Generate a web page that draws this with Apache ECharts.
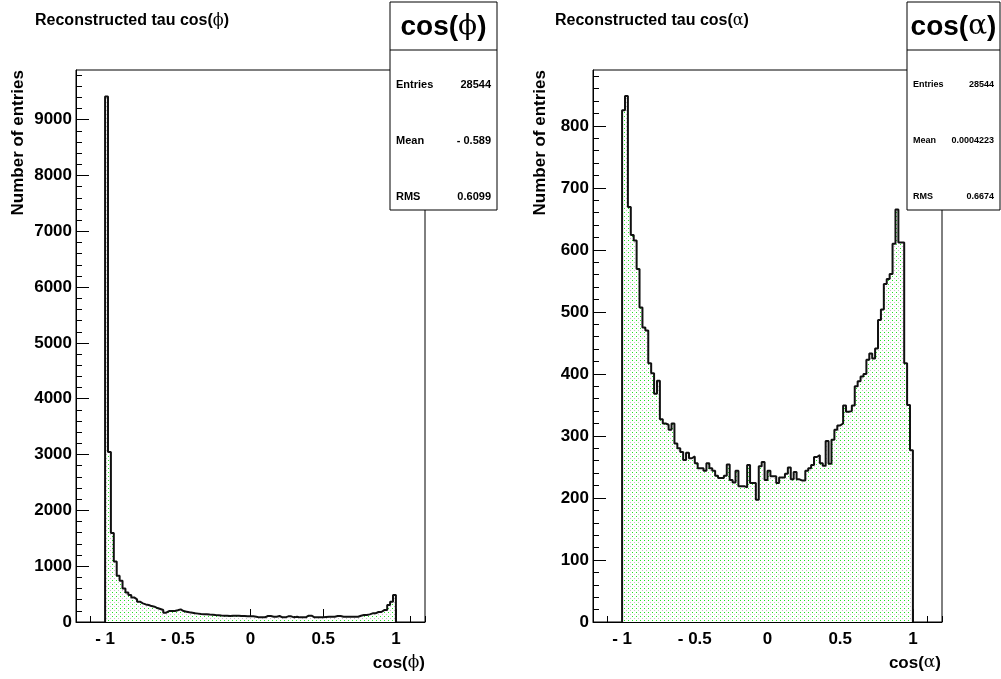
<!DOCTYPE html>
<html>
<head>
<meta charset="utf-8">
<script src="https://cdn.jsdelivr.net/npm/echarts@6/dist/echarts.min.js"></script>
<style>
  html, body { margin: 0; padding: 0; background: #fff; }
  #chart { width: 1001px; height: 679px; }
</style>
</head>
<body>
<div id="chart"></div>
<script>
// bin contents, 100 bins of width 0.02 from -1 to 1
var phiCounts = [
  9413, 3044, 1595, 1085, 830, 740, 600, 530, 482, 440,
  405, 363, 333, 315, 304, 285, 274, 250, 232, 214,
  167, 196, 196, 196, 210, 226, 196, 185, 173, 165,
  155, 150, 143, 140, 137, 133, 131, 125, 120, 115,
  113, 110, 107, 110, 113, 110, 107, 107, 103, 101,
  101, 95, 83, 83, 83, 107, 107, 95, 95, 107,
  83, 83, 101, 101, 83, 95, 83, 83, 83, 113,
  113, 83, 83, 83, 83, 89, 95, 95, 95, 107,
  107, 95, 95, 95, 95, 95, 95, 113, 125, 125,
  137, 155, 155, 179, 179, 214, 214, 304, 363, 482
];
var alphaCounts = [
  825, 848, 669, 624, 615, 569, 507, 475, 470, 417,
  401, 368, 389, 327, 320, 318, 310, 320, 288, 280,
  274, 261, 273, 264, 267, 256, 248, 248, 244, 256,
  248, 244, 236, 232, 232, 236, 254, 229, 225, 244,
  219, 219, 217, 253, 224, 224, 197, 251, 258, 229,
  244, 235, 235, 224, 233, 233, 239, 249, 230, 242,
  230, 228, 228, 244, 248, 253, 266, 269, 256, 252,
  292, 255, 294, 310, 317, 320, 349, 339, 340, 349,
  380, 388, 396, 400, 423, 433, 425, 441, 487, 504,
  545, 553, 561, 610, 665, 612, 612, 417, 350, 277
];
var binLow = -1, binWidth = 0.02;

var xTickValues = [-1, -0.5, 0, 0.5, 1];
var phiYTicks = [0, 1000, 2000, 3000, 4000, 5000, 6000, 7000, 8000, 9000];
var alphaYTicks = [0, 100, 200, 300, 400, 500, 600, 700, 800];
var phiYMax = 9890, alphaYMax = 890;

var statNames = ['Entries', 'Mean', 'RMS'];
var phiStats = ['28544', '- 0.589', '0.6099'];
var alphaStats = ['28544', '0.0004223', '0.6674'];

var FONT = '"Liberation Sans", Arial, Helvetica, sans-serif';
var GREEK = '"DejaVu Serif", "Liberation Serif", serif';

function histData(counts) {
  var d = [[binLow, 0]];
  for (var i = 0; i < counts.length; i++) {
    d.push([Math.round((binLow + i * binWidth) * 100) / 100, counts[i]]);
  }
  var end = Math.round((binLow + counts.length * binWidth) * 100) / 100;
  d.push([end, counts[counts.length - 1]]);
  d.push([end, 0]);
  return d;
}

function range(a, b, step) {
  var r = [];
  for (var v = a; v <= b + 1e-9; v += step) r.push(Math.round(v * 1000) / 1000);
  return r;
}

// ROOT style dotted fill (green + grey dots)
function dotPattern() {
  var c = document.createElement('canvas');
  c.width = 4; c.height = 4;
  var ctx = c.getContext('2d');
  ctx.fillStyle = '#fff';
  ctx.fillRect(0, 0, 4, 4);
  ctx.fillStyle = '#22e622';
  ctx.fillRect(0, 0, 1, 1);
  ctx.fillStyle = '#c4c4c4';
  ctx.fillRect(2, 2, 1, 1);
  return c;
}

function xLabel(v) {
  return v < 0 ? '- ' + Math.abs(v) : String(v);
}

var labelStyle = {color: '#000', fontFamily: FONT, fontWeight: 'bold', fontSize: 17};

function xAxes(gridIndex) {
  return [{
    type: 'value', gridIndex: gridIndex, min: -1.2, max: 1.2, position: 'bottom',
    axisLine: {show: true, onZero: false, lineStyle: {color: '#000', width: 1}},
    axisTick: {show: true, inside: true, length: 13, customValues: xTickValues, lineStyle: {color: '#000'}},
    axisLabel: Object.assign({show: true, margin: 9, customValues: xTickValues, formatter: xLabel}, labelStyle),
    splitLine: {show: false}
  }, {
    type: 'value', gridIndex: gridIndex, min: -1.2, max: 1.2, position: 'bottom',
    axisLine: {show: false, onZero: false},
    axisTick: {show: true, inside: true, length: 6, customValues: range(-1.2, 1.2, 0.1), lineStyle: {color: '#000'}},
    axisLabel: {show: false},
    splitLine: {show: false}
  }];
}

function yAxes(gridIndex, max, ticks, minorStep) {
  return [{
    type: 'value', gridIndex: gridIndex, min: 0, max: max, position: 'left',
    axisLine: {show: true, onZero: false, lineStyle: {color: '#000', width: 1}},
    axisTick: {show: true, inside: true, length: 13, customValues: ticks, lineStyle: {color: '#000'}},
    axisLabel: Object.assign({show: true, margin: 4, customValues: ticks,
      formatter: function (v) { return String(v); }}, labelStyle),
    splitLine: {show: false}
  }, {
    type: 'value', gridIndex: gridIndex, min: 0, max: max, position: 'left',
    axisLine: {show: false, onZero: false},
    axisTick: {show: true, inside: true, length: 6, customValues: range(0, max, minorStep), lineStyle: {color: '#000'}},
    axisLabel: {show: false},
    splitLine: {show: false}
  }];
}

function histSeries(counts, axisIndex, pattern) {
  return {
    type: 'line', step: 'end', xAxisIndex: axisIndex, yAxisIndex: axisIndex,
    data: histData(counts), showSymbol: false, silent: true, animation: false,
    lineStyle: {color: '#111', width: 2},
    areaStyle: {color: {image: pattern, repeat: 'repeat'}, opacity: 1}
  };
}

function greekText(x, y, before, letter, after, size, align) {
  return {
    type: 'text', x: x, y: y, z: 100,
    style: {
      text: '{a|' + before + '}{g|' + letter + '}{a|' + after + '}',
      align: align, verticalAlign: 'middle',
      rich: {
        a: {fontFamily: FONT, fontWeight: 'bold', fontSize: size, fill: '#000'},
        g: {fontFamily: GREEK, fontWeight: 'normal', fontSize: size, fill: '#000'}
      }
    }
  };
}

function statBox(left, right, letter, values, rowSize) {
  var els = [
    {type: 'rect', z: 99, shape: {x: left, y: 2, width: right - left, height: 208},
      style: {fill: '#fff', stroke: '#000', lineWidth: 1}},
    {type: 'line', z: 100, shape: {x1: left, y1: 50, x2: right, y2: 50},
      style: {stroke: '#000', lineWidth: 1}},
    greekText((left + right) / 2, 27, 'cos(', letter, ')', 28, 'center')
  ];
  var rowsY = [85, 141, 197];
  for (var i = 0; i < statNames.length; i++) {
    els.push({type: 'text', z: 100, x: left + 6, y: rowsY[i],
      style: {text: statNames[i], fontFamily: FONT, fontWeight: 'bold', fontSize: rowSize,
        fill: '#000', align: 'left', verticalAlign: 'middle'}});
    els.push({type: 'text', z: 100, x: right - 6, y: rowsY[i],
      style: {text: values[i], fontFamily: FONT, fontWeight: 'bold', fontSize: rowSize,
        fill: '#000', align: 'right', verticalAlign: 'middle'}});
  }
  return els;
}

function yTitle(x) {
  return {type: 'text', x: x, y: 70, rotation: Math.PI / 2, z: 100,
    style: {text: 'Number of entries', fontFamily: FONT, fontWeight: 'bold', fontSize: 17,
      fill: '#000', align: 'right', verticalAlign: 'middle'}};
}

var chart = echarts.init(document.getElementById('chart'), null, {renderer: 'canvas'});
var pattern = dotPattern();

chart.setOption({
  backgroundColor: '#fff',
  animation: false,
  grid: [
    {left: 76, top: 70, width: 349, height: 552, show: true, borderColor: '#000', borderWidth: 1, backgroundColor: 'transparent'},
    {left: 593, top: 70, width: 349, height: 552, show: true, borderColor: '#000', borderWidth: 1, backgroundColor: 'transparent'}
  ],
  xAxis: xAxes(0).concat(xAxes(1)),
  yAxis: yAxes(0, phiYMax, phiYTicks, 200).concat(yAxes(1, alphaYMax, alphaYTicks, 20)),
  series: [
    histSeries(phiCounts, 0, pattern),
    histSeries(alphaCounts, 2, pattern)
  ],
  graphic: [].concat(
    [greekText(35, 21, 'Reconstructed tau cos(', 'ϕ', ')', 16, 'left'),
     greekText(555, 21, 'Reconstructed tau cos(', 'α', ')', 16, 'left'),
     greekText(425, 663, 'cos(', 'ϕ', ')', 17, 'right'),
     greekText(941, 663, 'cos(', 'α', ')', 17, 'right'),
     yTitle(18), yTitle(540)],
    statBox(390, 497, 'ϕ', phiStats, 11),
    statBox(907, 1000, 'α', alphaStats, 9)
  )
});
</script>
</body>
</html>
